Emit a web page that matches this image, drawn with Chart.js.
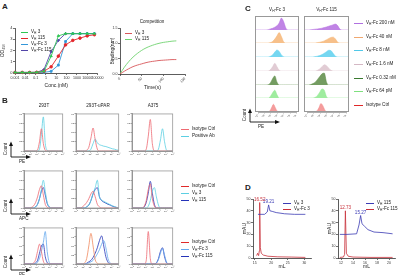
<!DOCTYPE html>
<html><head><meta charset="utf-8">
<script src="https://cdn.jsdelivr.net/npm/chart.js@4.4.1/dist/chart.umd.min.js"></script>
<style>
html,body{margin:0;padding:0;background:#fff}
body{position:relative;width:400px;height:275px;overflow:hidden;font-family:"Liberation Sans",Arial,sans-serif;color:#222}
canvas{position:absolute}
.t{position:absolute;white-space:nowrap;font-size:4.6px;line-height:1}
.L{position:absolute;font-weight:bold;font-size:8px;line-height:1}
.sw{position:absolute}
.box{position:absolute;border:0.8px solid #999;box-sizing:border-box}
sub{font-size:70%;vertical-align:-0.25em;line-height:0}
</style></head><body>
<script>
// ---------- A: binding curves (conc in nM) ----------
const concA = [0.001, 0.005, 0.026, 0.128, 0.64, 3.2, 16, 80, 400, 2000, 10000, 50000];
const odVh3   = [0.05, 0.05, 0.05, 0.06, 0.15, 1.5, 3.3, 3.5, 3.5, 3.5, 3.5, 3.5];
const odVh115 = [0.05, 0.05, 0.05, 0.06, 0.15, 0.55, 1.5, 2.5, 2.9, 3.1, 3.3, 3.4];
const odFc3   = [0.05, 0.05, 0.05, 0.05, 0.06, 0.15, 0.7, 2.8, 3.5, 3.5, 3.5, 3.5];
const odFc115 = [0.05, 0.05, 0.05, 0.06, 0.3, 1.9, 2.9, 3.5, 3.5, 3.5, 3.5, 3.5];
const concTicks = [0.001, 0.01, 0.1, 1, 10, 100, 1000, 10000, 100000];
const concTickLabels = ['0.001', '0.01', '0.1', '1', '10', '100', '1000', '10000', '100000'];

// ---------- A: competition ----------
const timeA = [0, 10, 20, 30, 40, 50, 60, 70, 80, 90, 100, 110, 120, 130];
const bindVh3   = [0, 0.09, 0.17, 0.24, 0.29, 0.33, 0.37, 0.40, 0.42, 0.44, 0.45, 0.46, 0.47, 0.47];
const bindVh115 = [0, 0.22, 0.40, 0.55, 0.67, 0.77, 0.85, 0.91, 0.96, 1.00, 1.03, 1.05, 1.07, 1.08];

// ---------- flow histograms (log10 intensity bins) ----------
const bins = [0, 0.3, 0.6, 0.9, 1.2, 1.5, 1.8, 2.1, 2.4, 2.7, 3.0, 3.3, 3.6, 3.9, 4.2, 4.5, 4.8, 5.1, 5.4, 5.7, 6.0];
const bColumns = ['293T', '293T-uPAR', 'A375'];

// B row 1 (PE): isotype / positive Ab
const b1_293T_iso = [0,0,0,0,0,0,0,0.03,0.25,0.6,0.2,0.02,0,0,0,0,0,0,0,0,0];
const b1_293T_pos = [0,0,0,0,0,0,0,0,0.05,0.45,0.92,0.2,0.02,0,0,0,0,0,0,0,0];
const b1_uPAR_iso = [0,0,0,0,0,0.02,0.1,0.35,0.62,0.3,0.05,0,0,0,0,0,0,0,0,0,0];
const b1_uPAR_pos = [0,0,0,0,0,0,0,0.05,0.2,0.32,0.22,0.17,0.15,0.13,0.12,0.1,0.08,0.06,0.05,0.03,0.02];
const b1_A375_iso = [0,0,0,0,0,0,0,0.05,0.4,0.85,0.2,0,0,0,0,0,0,0,0,0,0];
const b1_A375_pos = [0,0,0,0,0,0,0,0,0,0,0,0,0,0.05,0.3,0.6,0.25,0.02,0,0,0];
// B row 2 (APC): isotype / VH 3 / VH 115
const b2_293T_iso  = [0,0,0,0,0.02,0.06,0.15,0.3,0.5,0.6,0.35,0.1,0.02,0,0,0,0,0,0,0,0];
const b2_293T_v3   = [0,0,0,0,0,0,0.03,0.1,0.25,0.5,0.75,0.45,0.15,0.04,0,0,0,0,0,0,0];
const b2_293T_v115 = [0,0,0,0,0,0,0.03,0.1,0.25,0.45,0.55,0.35,0.12,0.03,0,0,0,0,0,0,0];
const b2_uPAR_iso  = [0,0,0,0.03,0.08,0.15,0.25,0.38,0.45,0.3,0.1,0.03,0,0,0,0,0,0,0,0,0];
const b2_uPAR_v3   = [0,0,0,0,0,0.03,0.08,0.2,0.4,0.55,0.75,0.3,0.22,0.18,0.15,0.12,0.09,0.06,0.04,0.02,0];
const b2_uPAR_v115 = [0,0,0,0,0,0.03,0.08,0.2,0.38,0.5,0.55,0.3,0.2,0.16,0.13,0.1,0.08,0.05,0.03,0.01,0];
const b2_A375_iso  = [0,0,0,0,0,0,0.05,0.2,0.5,0.65,0.25,0.05,0,0,0,0,0,0,0,0,0];
const b2_A375_v3   = [0,0,0,0,0,0,0,0,0.05,0.2,0.45,0.55,0.3,0.08,0,0,0,0,0,0,0];
const b2_A375_v115 = [0,0,0,0,0,0,0.03,0.15,0.4,0.72,0.4,0.1,0,0,0,0,0,0,0,0,0];
// B row 3 (PE): isotype / VH-Fc 3 / VH-Fc 115
const b3_293T_iso   = [0,0,0,0,0,0.03,0.12,0.35,0.55,0.35,0.08,0,0,0,0,0,0,0,0,0,0];
const b3_293T_fc3   = [0,0,0,0,0,0,0,0.05,0.15,0.35,0.6,0.9,0.35,0.05,0,0,0,0,0,0,0];
const b3_293T_fc115 = [0,0,0,0,0,0,0.03,0.1,0.3,0.5,0.55,0.2,0.04,0,0,0,0,0,0,0,0];
const b3_uPAR_iso   = [0,0,0,0,0.03,0.15,0.5,0.85,0.5,0.12,0.02,0,0,0,0,0,0,0,0,0,0];
const b3_uPAR_fc3   = [0,0,0,0,0,0,0.03,0.06,0.1,0.18,0.28,0.4,0.55,0.65,0.45,0.15,0.03,0,0,0,0];
const b3_uPAR_fc115 = [0,0,0,0,0,0.02,0.06,0.1,0.18,0.3,0.45,0.65,0.78,0.5,0.2,0.05,0,0,0,0,0];
const b3_A375_iso   = [0,0,0,0,0,0,0,0.1,0.9,0.15,0,0,0,0,0,0,0,0,0,0,0];
const b3_A375_fc3   = [0,0,0,0,0,0,0,0,0,0,0,0,0.03,0.12,0.3,0.43,0.25,0.05,0,0,0];
const b3_A375_fc115 = [0,0,0,0,0,0,0,0,0,0,0,0,0.03,0.15,0.35,0.45,0.2,0.03,0,0,0];

// C: titration, VH-Fc 3 (left) and VH-Fc 115 (right), top row = 200 nM
const cDoses = ['V<sub>H</sub>-Fc 200 nM', 'V<sub>H</sub>-Fc 40 nM', 'V<sub>H</sub>-Fc 8 nM', 'V<sub>H</sub>-Fc 1.6 nM', 'V<sub>H</sub>-Fc 0.32 nM', 'V<sub>H</sub>-Fc 64 pM', 'Isotype Ctrl'];
const cL_200 = [0,0,0,0,0,0,0.02,0.08,0.12,0.2,0.3,0.5,0.85,0.6,0.15,0,0,0,0,0,0];
const cL_40  = [0,0,0,0,0,0,0,0.03,0.12,0.3,0.55,0.8,0.5,0.1,0,0,0,0,0,0,0];
const cL_8   = [0,0,0,0,0,0,0,0.05,0.15,0.35,0.5,0.4,0.15,0.02,0,0,0,0,0,0,0];
const cL_1_6 = [0,0,0,0,0,0,0,0.1,0.3,0.55,0.3,0.05,0,0,0,0,0,0,0,0,0];
const cL_032 = [0,0,0,0,0,0,0.02,0.15,0.45,0.65,0.2,0,0,0,0,0,0,0,0,0,0];
const cL_64p = [0,0,0,0,0,0,0,0.12,0.4,0.6,0.25,0,0,0,0,0,0,0,0,0,0];
const cL_iso = [0,0,0,0,0,0,0.05,0.3,0.55,0.3,0.05,0,0,0,0,0,0,0,0,0,0];
const cR_200 = [0,0,0,0.02,0.04,0.06,0.08,0.1,0.13,0.17,0.22,0.27,0.32,0.38,0.42,0.3,0.05,0,0,0,0];
const cR_40  = [0,0,0,0,0,0,0.03,0.06,0.1,0.16,0.25,0.35,0.43,0.45,0.3,0.05,0,0,0,0,0];
const cR_8   = [0,0,0,0,0,0.03,0.06,0.1,0.17,0.27,0.38,0.48,0.45,0.25,0.05,0,0,0,0,0,0];
const cR_1_6 = [0,0,0,0,0,0,0.05,0.15,0.3,0.45,0.38,0.2,0.05,0,0,0,0,0,0,0,0];
const cR_032 = [0,0,0,0.03,0.1,0.2,0.4,0.6,0.8,0.85,0.2,0,0,0,0,0,0,0,0,0,0];
const cR_64p = [0,0,0,0,0,0.05,0.2,0.45,0.7,0.6,0.1,0,0,0,0,0,0,0,0,0,0];
const cR_iso = [0,0,0,0,0,0.08,0.3,0.6,0.45,0.15,0,0,0,0,0,0,0,0,0,0,0];

// D: size exclusion (mL, mAU)
const secL_vh3X = [16, 18, 18.8, 19.21, 19.6, 20.3, 21.5, 24, 27, 30.3];
const secL_vh3Y = [37, 37, 39, 45, 40, 39.5, 38.5, 37.5, 37, 37];
const secL_fcX  = [15.6, 15.9, 16.2, 16.4, 16.52, 16.7, 17, 17.6, 19, 22, 26, 30.3];
const secL_fcY  = [2, 4, 2, 6, 47, 9, 4, 2.5, 1.5, 1, 0.8, 0.5];
const secR_vhX  = [11.8, 13, 14.6, 15.0, 15.27, 15.5, 15.9, 16.5, 17.5, 19, 20.6];
const secR_vhY  = [20, 20, 20.5, 28, 36, 29, 27, 24, 22, 21.5, 20.5];
const secR_fcX  = [11.8, 12.4, 12.6, 12.73, 12.9, 13.2, 14, 17, 20.6];
const secR_fcY  = [0.5, 0.8, 3, 40, 4, 1.5, 0.8, 0.5, 0.5];
const secL_ticks = [15, 20, 25, 30];
const secR_ticks = [12, 14, 16, 18, 20];
const peakText  = {secL_vh3: '19.21', secL_fc: '16.52', secR_vh: '15.27', secR_fc: '12.73'};

// ---------- colours ----------
const red = '#e02a2a', iso = '#ee6a72', cyan = '#5ccfe2', ltBlue = '#64a8ee', dkBlue = '#2533b8';
const cFill = ['#b56ee0', '#f5b575', '#5cd0ee', '#dcc3cc', '#5b8a45', '#8ee88e', '#f28a8a'];
const cKey  = ['#b070e0', '#f0a870', '#50c8e8', '#d4b8c4', '#3a7a30', '#7ee07e', '#e02828'];
const secBlue = '#3b3bb4', secRed = '#c8303a';

Chart.defaults.font.family = "'Liberation Sans', Arial, sans-serif";
Chart.defaults.color = '#333';
Chart.defaults.animation = false;
Chart.defaults.responsive = false;
Chart.defaults.plugins.legend.display = false;
Chart.defaults.plugins.tooltip.enabled = false;

Chart.register({
  id: 'frame',
  afterDraw(c, a, o) {
    if (!o.color) return;
    const {left, top, right, bottom} = c.chartArea, ctx = c.ctx;
    ctx.save(); ctx.strokeStyle = o.color; ctx.lineWidth = 0.8;
    ctx.strokeRect(left, top, right - left, bottom - top);
    ctx.restore();
  }
}, {
  id: 'peaks',
  afterDatasetsDraw(c, a, o) {
    if (!o.items) return;
    const ctx = c.ctx;
    ctx.save(); ctx.font = "4.6px 'Liberation Sans'"; ctx.textAlign = 'center';
    o.items.forEach(p => {
      ctx.fillStyle = p.color;
      ctx.fillText(p.text, c.scales.x.getPixelForValue(p.x), c.scales.y.getPixelForValue(p.y) - 1.5);
    });
    ctx.restore();
  }
});

// r = plot area [x0,y0,x1,y1]; m = [left,right,top,bottom] room for axes
function plot(r, m, cfg) {
  const cv = document.createElement('canvas');
  cv.width = Math.round(r[2] - r[0] + m[0] + m[1]);
  cv.height = Math.round(r[3] - r[1] + m[2] + m[3]);
  cv.style.left = (r[0] - m[0]) + 'px'; cv.style.top = (r[1] - m[2]) + 'px';
  document.body.appendChild(cv);
  const o = cfg.options;
  o.layout = {autoPadding: false, padding: {left: 0, right: m[1], top: m[2], bottom: 0}};
  o.scales.x.afterFit = s => { s.height = m[3]; };
  o.scales.y.afterFit = s => { s.width = m[0]; };
  return new Chart(cv, cfg);
}

function ax(o) {
  const a = {
    type: o.type || 'linear', min: o.min, max: o.max,
    grid: {display: o.tl !== 0, drawOnChartArea: false, tickLength: o.tl || 2, color: o.col || '#333', lineWidth: 0.7},
    border: {display: o.border !== false, color: o.col || '#333', width: 0.8},
    ticks: {display: o.lab !== false, font: {size: o.fs || 4}, padding: 0.5, color: '#333', autoSkip: false,
            maxRotation: o.rot || 0, minRotation: o.rot || 0},
    title: {display: !!o.title, text: o.title, font: {size: 5}, padding: 0, color: '#222'}
  };
  if (o.step) a.ticks.stepSize = o.step;
  if (o.cb) a.ticks.callback = o.cb;
  if (o.abt) a.afterBuildTicks = o.abt;
  return a;
}

// ---------- html helpers ----------
function T(x, y, html, cls) {
  const d = document.createElement('div');
  d.className = cls || 't'; d.style.left = x + 'px'; d.style.top = y + 'px'; d.innerHTML = html;
  document.body.appendChild(d); return d;
}
function TC(cx, y, html) { const d = T(cx, y, html); d.style.transform = 'translateX(-50%)'; return d; }
function TR(cx, cy, html) { const d = T(cx, cy, html); d.style.transform = 'translate(-50%,-50%) rotate(-90deg)'; return d; }
function S(x, y, w, h, col) {
  const d = document.createElement('div');
  d.className = 'sw'; Object.assign(d.style, {left: x + 'px', top: y + 'px', width: w + 'px', height: h + 'px', background: col});
  document.body.appendChild(d); return d;
}
function key(x, y, col, html, w) { S(x, y + 1.6, w || 8, 1.6, col); T(x + (w || 8) + 3, y, html); }
function countArrow(cx, cy, up, right, lab) {
  const ns = 'http://www.w3.org/2000/svg', s = document.createElementNS(ns, 'svg');
  s.setAttribute('width', right + 5); s.setAttribute('height', up + 5);
  Object.assign(s.style, {position: 'absolute', left: (cx - 2) + 'px', top: (cy - up - 2) + 'px'});
  s.innerHTML = `<path d="M2 ${up + 2} V4 M2 ${up + 2} H${right}" stroke="#111" stroke-width="0.9" fill="none"/>` +
    `<path d="M0 5 L2 0.5 L4 5Z M${right - 1} ${up} L${right + 4} ${up + 2} L${right - 1} ${up + 4}Z" fill="#111"/>`;
  document.body.appendChild(s);
  TR(cx - 5, cy - up / 2 - 1, 'Count');
  T(cx + 8, cy + 3, lab);
}

// ================= Panel A =================
T(2, 3, 'A', 'L');
const series = (xs, ys) => xs.map((x, i) => ({x, y: ys[i]}));
const aSets = [
  ['V<sub>H</sub> 3', odVh3, '#2fc653', 'triangle'],
  ['V<sub>H</sub> 115', odVh115, '#e3262b', 'circle'],
  ['V<sub>H</sub>-Fc 3', odFc3, '#3397d9', 'rect'],
  ['V<sub>H</sub>-Fc 115', odFc115, '#5245a8', 'rectRot']
];
plot([15, 28, 100, 73], [15, 4, 3, 16], {
  type: 'scatter',
  data: {datasets: aSets.map(([n, d, c, ps]) => ({data: series(concA, d), showLine: true, borderColor: c, backgroundColor: c,
    borderWidth: 0.9, pointRadius: 1.3, pointStyle: ps}))},
  options: {scales: {
    x: ax({type: 'logarithmic', min: 0.001, max: 100000, fs: 3.6, title: 'Conc.(nM)',
      abt: s => { s.ticks = concTicks.map(v => ({value: v})); }, cb: (v, i) => concTickLabels[i]}),
    y: ax({min: 0, max: 4, step: 1, fs: 4, title: 'OD₄₅₀'})
  }, clip: false}
});
aSets.forEach(([n, d, c], i) => key(21, 30 + i * 6, c, n, 7));

TC(152, 20, 'Competition');
plot([120, 28, 185, 74], [10, 4, 3, 17], {
  type: 'scatter',
  data: {datasets: [
    {data: series(timeA, bindVh3), showLine: true, borderColor: '#d8575a', borderWidth: 0.9, pointRadius: 0, tension: 0.4},
    {data: series(timeA, bindVh115), showLine: true, borderColor: '#6fd36f', borderWidth: 0.9, pointRadius: 0, tension: 0.4}
  ]},
  options: {scales: {
    x: ax({min: 0, max: 150, step: 50, fs: 3.6, rot: 45, title: 'Time(s)'}),
    y: ax({min: 0, max: 1.5, step: 0.5, fs: 3.6, title: 'Binding(nm)', cb: v => v.toFixed(1)})
  }}
});
key(125, 31, '#d8575a', 'V<sub>H</sub> 3', 7);
key(125, 37, '#6fd36f', 'V<sub>H</sub> 115', 7);

// ================= Panel B =================
T(2, 97, 'B', 'L');
const sup = ['⁰', '¹', '²', '³', '⁴', '⁵', '⁶'];
const bCols = [[24, 64], [76, 120], [132, 174]];
const bRows = [[113, 151], [170, 208], [227, 264]];
const bGrid = [
  [[[b1_293T_iso, iso], [b1_293T_pos, cyan]], [[b1_uPAR_iso, iso], [b1_uPAR_pos, cyan]], [[b1_A375_iso, iso], [b1_A375_pos, cyan]]],
  [[[b2_293T_iso, iso], [b2_293T_v3, cyan], [b2_293T_v115, dkBlue]], [[b2_uPAR_iso, iso], [b2_uPAR_v3, cyan], [b2_uPAR_v115, dkBlue]],
   [[b2_A375_iso, iso], [b2_A375_v3, cyan], [b2_A375_v115, dkBlue]]],
  [[[b3_293T_iso, iso], [b3_293T_fc3, ltBlue], [b3_293T_fc115, dkBlue]], [[b3_uPAR_iso, '#f08a60'], [b3_uPAR_fc3, ltBlue], [b3_uPAR_fc115, dkBlue]],
   [[b3_A375_iso, iso], [b3_A375_fc3, ltBlue], [b3_A375_fc115, dkBlue]]]
];
function hist(r, sets, m, xo, yo, frame, fill) {
  return plot(r, m, {
    type: 'line',
    data: {datasets: sets.map(([d, c]) => ({
      data: d.map((v, i) => ({x: bins[i], y: v})),
      borderColor: c, backgroundColor: fill ? c + 'd8' : c, fill: fill ? 'origin' : false,
      borderWidth: fill ? 0.5 : 0.8, pointRadius: 0, cubicInterpolationMode: 'monotone'
    }))},
    options: {scales: {x: ax(xo), y: ax(yo)}, plugins: {frame: {color: frame}}}
  });
}
bColumns.forEach((n, j) => TC((bCols[j][0] + bCols[j][1]) / 2, 104, n));
bRows.forEach((rw, i) => bCols.forEach((cl, j) => {
  hist([cl[0], rw[0], cl[1], rw[1]], bGrid[i][j], [5, 1, 1, 5],
    {min: 0, max: 6, step: 1, fs: 2.4, tl: 1.5, col: '#777', cb: v => '10' + sup[v]},
    {min: 0, max: 1, step: 0.25, fs: 2.4, tl: 1.5, col: '#777', cb: v => String(Math.round(v * 100))}, '#999');
}));
key(181, 127, iso, 'Isotype Ctrl'); key(181, 134, cyan, 'Positive Ab');
key(181, 184, red, 'Isotype Ctrl'); key(181, 191, cyan, 'V<sub>H</sub> 3'); key(181, 198, dkBlue, 'V<sub>H</sub> 115');
key(181, 240, red, 'Isotype Ctrl'); key(181, 247, ltBlue, 'V<sub>H</sub>-Fc 3'); key(181, 254, dkBlue, 'V<sub>H</sub>-Fc 115');
countArrow(11, 157, 14, 18, 'PE');
countArrow(11, 214, 14, 18, 'APC');
countArrow(11, 270, 14, 18, 'PE');

// ================= Panel C =================
T(245, 5, 'C', 'L');
const cCols = [[255, 299, 'V<sub>H</sub>-Fc 3', [cL_200, cL_40, cL_8, cL_1_6, cL_032, cL_64p, cL_iso]],
               [304, 349, 'V<sub>H</sub>-Fc 115', [cR_200, cR_40, cR_8, cR_1_6, cR_032, cR_64p, cR_iso]]];
const cTop = 16, cRowH = 13.7;
cCols.forEach(([x0, x1, title, rows]) => {
  TC((x0 + x1) / 2, 8, title);
  rows.forEach((d, i) => {
    const y0 = Math.round(cTop + i * cRowH), y1 = Math.round(cTop + (i + 1) * cRowH), last = i === rows.length - 1;
    hist([x0, y0, x1, y1], [[d, cFill[i]]], [0, 0, 0, last ? 5 : 0],
      {min: 0, max: 6, step: 1, fs: 2.4, tl: last ? 1.5 : 0, rot: 45, lab: last, col: last ? '#999' : '#d4d4d4', cb: v => '10' + sup[v]},
      {min: 0, max: 1, tl: 0, lab: false, border: false}, null, true);
  });
  const b = document.createElement('div'); b.className = 'box';
  Object.assign(b.style, {left: x0 + 'px', top: cTop + 'px', width: (x1 - x0) + 'px', height: Math.round(7 * cRowH) + 'px'});
  document.body.appendChild(b);
});
cDoses.forEach((n, i) => key(354, Math.round(cTop + (i + 0.5) * cRowH) - 2, cKey[i], n, 9));
countArrow(250, 122, 12, 28, 'PE');

// ================= Panel D =================
T(245, 184, 'D', 'L');
function peakOf(xs, ys, text, color) {
  const i = ys.indexOf(Math.max(...ys));
  return {x: xs[i], y: ys[i], text, color};
}
function sec(r, sets, peaks, xmin, xmax, xt) {
  return plot(r, [11, 3, 3, 12], {
    type: 'scatter',
    data: {datasets: sets.map(([xs, ys, c]) => ({data: series(xs, ys), showLine: true, borderColor: c, borderWidth: 0.8, pointRadius: 0}))},
    options: {scales: {
      x: ax({min: xmin, max: xmax, fs: 3.5, title: 'mL', abt: s => { s.ticks = xt.map(v => ({value: v})); }}),
      y: ax({min: 0, max: 50, step: 10, fs: 3.5, title: 'mAU'})
    }, plugins: {peaks: {items: peaks}}}
  });
}
sec([253, 199, 311, 258], [[secL_vh3X, secL_vh3Y, secBlue], [secL_fcX, secL_fcY, secRed]],
  [peakOf(secL_vh3X, secL_vh3Y, peakText.secL_vh3, secBlue), peakOf(secL_fcX, secL_fcY, peakText.secL_fc, secRed)],
  14.5, 32, secL_ticks);
sec([338, 199, 395, 258], [[secR_vhX, secR_vhY, secBlue], [secR_fcX, secR_fcY, secRed]],
  [peakOf(secR_vhX, secR_vhY, peakText.secR_vh, secBlue), peakOf(secR_fcX, secR_fcY, peakText.secR_fc, secRed)],
  11.5, 21, secR_ticks);
key(283, 201, secBlue, 'V<sub>H</sub> 3'); key(283, 207, secRed, 'V<sub>H</sub>-Fc 3');
key(366, 201, secBlue, 'V<sub>H</sub> 115'); key(366, 207, secRed, 'V<sub>H</sub>-Fc 115');
</script></body></html>
